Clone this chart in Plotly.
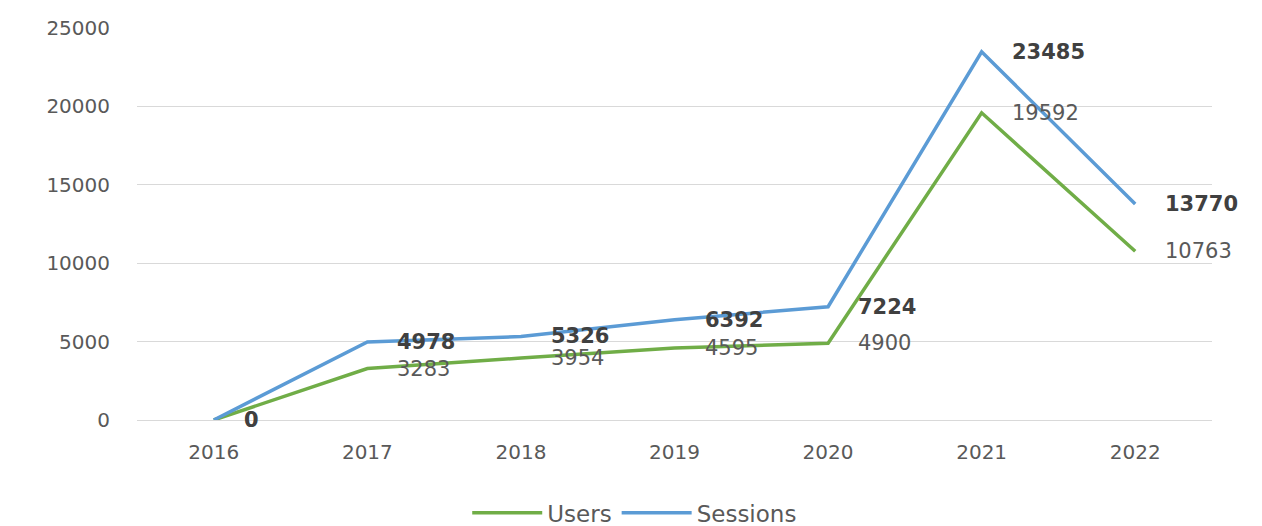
import plotly.graph_objects as go

years = [2016, 2017, 2018, 2019, 2020, 2021, 2022]
users = [0, 3283, 3954, 4595, 4900, 19592, 10763]
sessions = [0, 4978, 5326, 6392, 7224, 23485, 13770]

GREEN = "#70AD47"
BLUE = "#5B9BD5"
FONT = "DejaVu Sans"

fig = go.Figure()
fig.add_trace(go.Scatter(x=years, y=users, name="Users", mode="lines",
                         line=dict(color=GREEN, width=3.5)))
fig.add_trace(go.Scatter(x=years, y=sessions, name="Sessions", mode="lines",
                         line=dict(color=BLUE, width=3.5)))

# value labels to the right of each point
annotations = []
for yr, v in zip(years, users):
    annotations.append(dict(x=yr, y=v, text=str(v), showarrow=False,
                            xanchor="left", yanchor="middle", xshift=28,
                            font=dict(family=FONT, size=21, color="#595959")))
for yr, v in zip(years, sessions):
    annotations.append(dict(x=yr, y=v, text="<b>" + str(v) + "</b>", showarrow=False,
                            xanchor="left", yanchor="middle", xshift=28,
                            font=dict(family=FONT, size=21, color="#404040")))

fig.update_layout(
    width=1262, height=526,
    margin=dict(l=137, r=50, t=28, b=106, autoexpand=False),
    paper_bgcolor="white", plot_bgcolor="white",
    font=dict(family=FONT, size=21, color="#595959"),
    showlegend=True,
    legend=dict(orientation="h", x=0.463, xanchor="center", y=-0.237, yanchor="middle",
                font=dict(family=FONT, size=23, color="#595959"),
                itemwidth=70, tracegroupgap=30),
    annotations=annotations,
    xaxis=dict(range=[2015.5, 2022.5], tickmode="array", tickvals=years,
               ticktext=[str(y) for y in years],
               showgrid=False, showline=False, zeroline=False, ticks="",
               ticklabelstandoff=18,
               tickfont=dict(family=FONT, size=20, color="#595959")),
    yaxis=dict(range=[0, 25000], dtick=5000, tickformat="d",
               showgrid=True, gridcolor="#D9D9D9",
               gridwidth=1, zeroline=True, zerolinecolor="#D9D9D9", zerolinewidth=1,
               showline=False, ticks="", ticklabelstandoff=26,
               tickfont=dict(family=FONT, size=20, color="#595959")),
)

fig.write_html("out.html")
